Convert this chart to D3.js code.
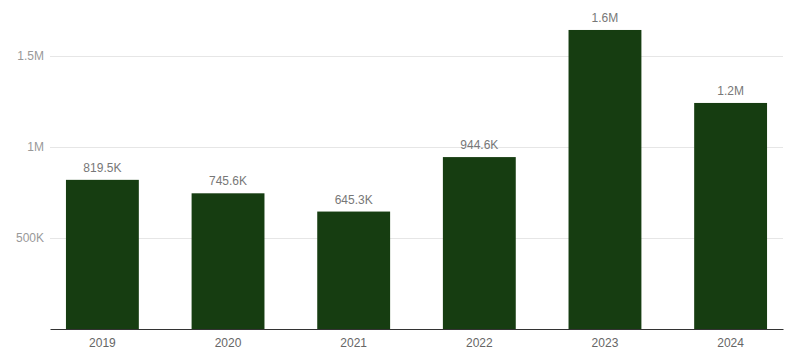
<!DOCTYPE html>
<html>
<head>
<meta charset="utf-8">
<script src="https://cdn.jsdelivr.net/npm/d3@7"></script>
<style>
  body { margin: 0; background: #fff; }
  text { font-family: "Liberation Sans", Arial, sans-serif; }
</style>
</head>
<body>
<div id="chart"></div>
<script>
var years = ["2019", "2020", "2021", "2022", "2023", "2024"];
var values = [819500, 745600, 645300, 944600, 1643000, 1242000];
var yTicks = [500000, 1000000, 1500000];

var width = 796,
  height = 358,
  margin = { top: 20, right: 13, bottom: 29, left: 50 };

var fmt = function(v) {
  if (v >= 1e6) return d3.format(".1f")(v / 1e6).replace(/\.0$/, "") + "M";
  return d3.format(".1f")(v / 1e3).replace(/\.0$/, "") + "K";
};
var tickFmt = function(v) {
  return v >= 1e6 ? (v / 1e6) + "M" : (v / 1e3) + "K";
};

var svg = d3.select("#chart").append("svg")
  .attr("width", width)
  .attr("height", height);

var x = d3.scaleBand()
  .domain(years)
  .range([margin.left, width - margin.right])
  .paddingInner(0.42)
  .paddingOuter(0.127);

// 1M spans ~182px above the baseline at y=329
var y = d3.scaleLinear()
  .domain([0, 1e6 * (329 - margin.top) / 182])
  .range([height - margin.bottom, margin.top]);

// gridlines
svg.append("g")
  .selectAll("line")
  .data(yTicks)
  .enter().append("line")
  .attr("x1", margin.left)
  .attr("x2", width - margin.right)
  .attr("y1", function(d) { return Math.round(y(d)) + 0.5; })
  .attr("y2", function(d) { return Math.round(y(d)) + 0.5; })
  .style("stroke", "#e6e6e6");

// y tick labels
svg.append("g")
  .selectAll("text")
  .data(yTicks)
  .enter().append("text")
  .attr("x", margin.left - 6)
  .attr("y", function(d) { return y(d); })
  .attr("dy", ".35em")
  .attr("text-anchor", "end")
  .style("font-size", "12px")
  .style("fill", "#999")
  .text(tickFmt);

// bars
svg.append("g")
  .selectAll("rect")
  .data(values)
  .enter().append("rect")
  .attr("x", function(d, i) { return x(years[i]); })
  .attr("y", function(d) { return y(d); })
  .attr("width", x.bandwidth())
  .attr("height", function(d) { return y(0) - y(d); })
  .style("fill", "#163d11");

// value labels
svg.append("g")
  .selectAll("text")
  .data(values)
  .enter().append("text")
  .attr("x", function(d, i) { return x(years[i]) + x.bandwidth() / 2; })
  .attr("y", function(d) { return y(d) - 8; })
  .attr("text-anchor", "middle")
  .style("font-size", "12px")
  .style("fill", "#777")
  .text(fmt);

// x axis
var xAxis = svg.append("g")
  .attr("transform", "translate(0," + y(0) + ")")
  .call(d3.axisBottom(x).tickSize(0).tickPadding(9));
xAxis.select(".domain").style("stroke", "#333");
xAxis.selectAll("text")
  .style("font-size", "12px")
  .style("fill", "#666")
  .style("font-family", "Liberation Sans, Arial, sans-serif");
</script>
</body>
</html>
